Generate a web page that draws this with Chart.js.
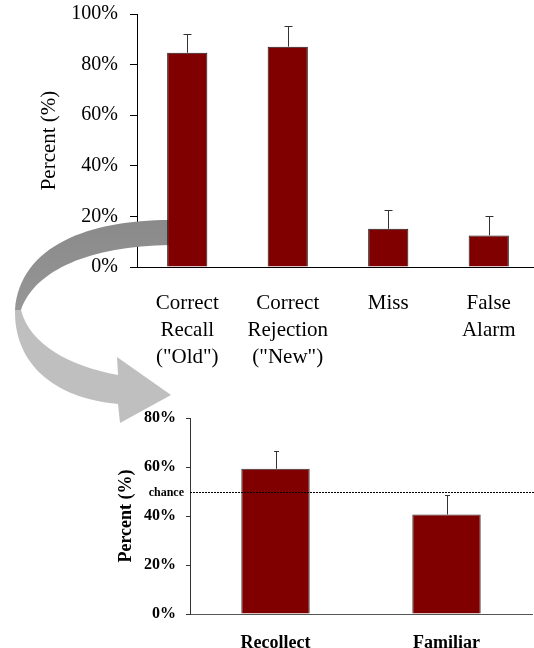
<!DOCTYPE html>
<html>
<head>
<meta charset="utf-8">
<script src="https://cdn.jsdelivr.net/npm/chart.js@4.4.1/dist/chart.umd.min.js"></script>
<style>
  html, body { margin: 0; padding: 0; background: #fff; overflow: hidden; width: 534px; height: 648px; }
  #wrap1 { position: absolute; left: 0; top: 0; width: 545px; height: 440px; z-index: 2; }
  #wrap2 { position: absolute; left: 0; top: 380px; width: 545px; height: 268px; z-index: 1; }
</style>
</head>
<body>
<div id="wrap2"><canvas id="c2"></canvas></div>
<div id="wrap1"><canvas id="c1"></canvas></div>
<script>
// ---- data ----
const categoriesTop = [["Correct", "Recall", "(\"Old\")"], ["Correct", "Rejection", "(\"New\")"], ["Miss"], ["False", "Alarm"]];
const valuesTop = [84.7, 87.1, 15.1, 12.5];
const errorsTop = [7.3, 8.0, 7.3, 7.8];
const ticksTop = [0, 20, 40, 60, 80, 100];

const categoriesBottom = ["Recollect", "Familiar"];
const valuesBottom = [59.3, 40.6];
const errorsBottom = [7.1, 7.8];
const ticksBottom = [0, 20, 40, 60, 80];
const chanceLevel = 50;

const SERIF = "'Liberation Serif', 'Times New Roman', serif";
const BAR = '#800000';

function errorBarPlugin(errors, capHalf, color) {
  return {
    id: 'errbars',
    afterDatasetsDraw(chart) {
      const meta = chart.getDatasetMeta(0);
      const ys = chart.scales.y;
      const vals = chart.data.datasets[0].data;
      const ctx = chart.ctx;
      ctx.save();
      ctx.strokeStyle = color;
      ctx.lineWidth = 1;
      meta.data.forEach((bar, i) => {
        const x = Math.round(bar.x) + 0.5;
        const y0 = ys.getPixelForValue(vals[i]);
        const y1 = Math.round(ys.getPixelForValue(vals[i] + errors[i])) + 0.5;
        ctx.beginPath();
        ctx.moveTo(x, y0);
        ctx.lineTo(x, y1);
        ctx.moveTo(x - capHalf, y1);
        ctx.lineTo(x + capHalf, y1);
        ctx.stroke();
      });
      ctx.restore();
    }
  };
}

const arrowPlugin = {
  id: 'arrow',
  beforeDatasetsDraw(chart) {
    const ctx = chart.ctx;
    ctx.save();
    // upper (dark) ribbon
    let g = ctx.createLinearGradient(0, 220, 0, 310);
    g.addColorStop(0, '#8a8a8a');
    g.addColorStop(1, '#969696');
    ctx.fillStyle = g;
    ctx.beginPath();
    ctx.moveTo(170, 220);
    ctx.bezierCurveTo(90, 220, 20, 245, 15, 310);
    ctx.lineTo(21, 310);
    ctx.bezierCurveTo(35, 270, 90, 246, 170, 245);
    ctx.closePath();
    ctx.fill();
    // lower (light) ribbon + head
    ctx.fillStyle = '#bfbfbf';
    ctx.beginPath();
    ctx.moveTo(15, 310);
    ctx.bezierCurveTo(14, 362, 52, 398, 118, 404);
    ctx.lineTo(120, 423);
    ctx.lineTo(171, 395);
    ctx.lineTo(117, 357);
    ctx.lineTo(118, 375);
    ctx.bezierCurveTo(70, 366, 30, 345, 21, 310);
    ctx.closePath();
    ctx.fill();
    ctx.restore();
  }
};

const chancePlugin = {
  id: 'chance',
  afterDatasetsDraw(chart) {
    const ctx = chart.ctx;
    const ys = chart.scales.y;
    const y = Math.round(ys.getPixelForValue(chanceLevel)) + 0.5;
    ctx.save();
    ctx.strokeStyle = '#000';
    ctx.lineWidth = 1;
    ctx.setLineDash([2, 1]);
    ctx.beginPath();
    ctx.moveTo(chart.chartArea.left, y);
    ctx.lineTo(chart.width, y);
    ctx.stroke();
    ctx.setLineDash([]);
    ctx.fillStyle = '#000';
    ctx.font = "bold 12px " + SERIF;
    ctx.textAlign = 'right';
    ctx.textBaseline = 'middle';
    ctx.fillText('chance', 184, y);
    ctx.restore();
  }
};

// ---- top chart ----
new Chart(document.getElementById('c1'), {
  type: 'bar',
  data: {
    labels: categoriesTop,
    datasets: [{
      data: valuesTop,
      backgroundColor: BAR,
      borderColor: '#1a1a1a',
      borderWidth: 1,
      categoryPercentage: 1,
      barPercentage: 0.4
    }]
  },
  options: {
    responsive: true,
    maintainAspectRatio: false,
    animation: false,
    devicePixelRatio: 1,
    layout: { padding: { left: 0, right: 6, top: 14, bottom: 0 } },
    plugins: { legend: { display: false }, tooltip: { enabled: false } },
    scales: {
      x: {
        grid: { display: false },
        border: { display: true, color: '#000', width: 1 },
        ticks: { color: '#000', font: { family: SERIF, size: 21, lineHeight: 1.29 }, padding: 15, maxRotation: 0, autoSkip: false },
        afterFit(s) { s.height = 173; }
      },
      y: {
        min: 0, max: 100,
        afterBuildTicks(s) { s.ticks = ticksTop.map(v => ({ value: v })); },
        grid: { drawOnChartArea: false, drawTicks: true, tickLength: 7, color: '#000' },
        border: { display: true, color: '#000', width: 1 },
        ticks: { color: '#000', font: { family: SERIF, size: 20 }, padding: 12, callback: v => v + '%' },
        title: { display: true, text: 'Percent (%)', color: '#000', font: { family: SERIF, size: 21 }, padding: { top: 37, bottom: 0 } },
        afterFit(s) { s.width = 137; s.paddingTop = 0; s.paddingBottom = 0; }
      }
    }
  },
  plugins: [arrowPlugin, errorBarPlugin(errorsTop, 4, '#333')]
});

// ---- bottom chart ----
new Chart(document.getElementById('c2'), {
  type: 'bar',
  data: {
    labels: categoriesBottom,
    datasets: [{
      data: valuesBottom,
      backgroundColor: BAR,
      borderColor: '#333',
      borderWidth: 1,
      categoryPercentage: 1,
      barPercentage: 0.4
    }]
  },
  options: {
    responsive: true,
    maintainAspectRatio: false,
    animation: false,
    devicePixelRatio: 1,
    layout: { padding: { left: 0, right: 13, top: 38, bottom: 0 } },
    plugins: { legend: { display: false }, tooltip: { enabled: false } },
    scales: {
      x: {
        grid: { display: false },
        border: { display: true, color: '#555', width: 1 },
        ticks: { color: '#000', font: { family: SERIF, size: 18, weight: 'bold' }, padding: 11, maxRotation: 0, autoSkip: false },
        afterFit(s) { s.height = 34; }
      },
      y: {
        min: 0, max: 80,
        afterBuildTicks(s) { s.ticks = ticksBottom.map(v => ({ value: v })); },
        grid: { drawOnChartArea: false, drawTicks: true, tickLength: 4, color: '#333' },
        border: { display: true, color: '#333', width: 1 },
        ticks: { color: '#000', font: { family: SERIF, size: 16, weight: 'bold' }, padding: 10, callback: v => v + '%' },
        title: { display: true, text: 'Percent (%)', color: '#000', font: { family: SERIF, size: 18, weight: 'bold' }, padding: { top: 116, bottom: 0 } },
        afterFit(s) { s.width = 190; s.paddingTop = 0; s.paddingBottom = 0; }
      }
    }
  },
  plugins: [chancePlugin, errorBarPlugin(errorsBottom, 2.5, '#333')]
});
</script>
</body>
</html>
